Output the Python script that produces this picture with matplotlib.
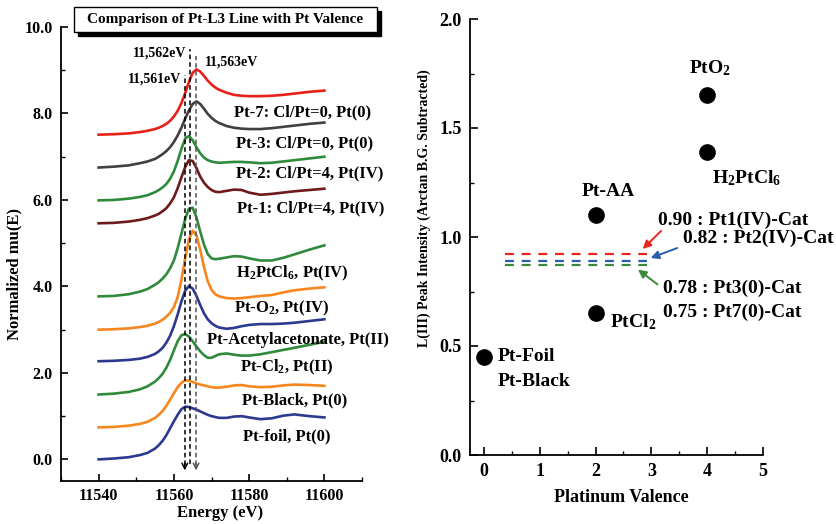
import numpy as np
import matplotlib.pyplot as plt
from matplotlib.patches import Rectangle
from matplotlib.ticker import MultipleLocator

plt.rcParams['font.family'] = ['Liberation Serif', 'DejaVu Serif']
plt.rcParams['font.weight'] = 'bold'
plt.rcParams['mathtext.fontset'] = 'custom'
plt.rcParams['mathtext.rm'] = 'Liberation Serif:bold'
plt.rcParams['mathtext.default'] = 'rm'
plt.rcParams['axes.linewidth'] = 1.3

# ---- left panel: normalized XANES spectra (offset) ----
energy = [11540, 11544, 11548, 11551, 11553, 11555, 11556, 11557, 11558, 11559,
          11560, 11561, 11562, 11563, 11564, 11565, 11566, 11567, 11568, 11569,
          11570, 11571, 11572, 11574, 11576, 11578, 11580, 11583, 11586, 11589,
          11592, 11596, 11600]

pt_foil = [0.00, 0.02, 0.05, 0.10, 0.15, 0.25, 0.33, 0.43, 0.56, 0.72,
           0.88, 1.03, 1.16, 1.22, 1.21, 1.18, 1.15, 1.11, 1.07, 1.03,
           1.00, 0.98, 0.96, 0.96, 0.99, 1.00, 0.97, 0.93, 0.95, 1.01,
           1.04, 1.00, 0.97]
pt_black = [0.74, 0.75, 0.78, 0.82, 0.87, 0.96, 1.03, 1.12, 1.24, 1.38,
            1.53, 1.67, 1.77, 1.83, 1.82, 1.79, 1.76, 1.73, 1.71, 1.69,
            1.67, 1.66, 1.66, 1.68, 1.71, 1.72, 1.69, 1.67, 1.68, 1.71,
            1.73, 1.72, 1.70]
pt_cl2 = [1.50, 1.52, 1.56, 1.62, 1.69, 1.80, 1.88, 1.98, 2.12, 2.30,
          2.52, 2.73, 2.87, 2.90, 2.84, 2.73, 2.61, 2.50, 2.41, 2.35,
          2.35, 2.39, 2.43, 2.45, 2.42, 2.40, 2.40, 2.43, 2.48, 2.53,
          2.58, 2.65, 2.72]
pt_acac = [2.27, 2.28, 2.30, 2.33, 2.37, 2.44, 2.50, 2.58, 2.70, 2.86,
           3.08, 3.35, 3.65, 3.90, 4.01, 3.95, 3.78, 3.57, 3.38, 3.24,
           3.15, 3.09, 3.05, 3.02, 3.04, 3.08, 3.11, 3.13, 3.13, 3.14,
           3.16, 3.20, 3.24]
pt_o2 = [3.00, 3.01, 3.03, 3.06, 3.09, 3.14, 3.18, 3.23, 3.30, 3.39,
         3.52, 3.75, 4.15, 4.65, 5.08, 5.29, 5.18, 4.85, 4.45, 4.12,
         3.92, 3.82, 3.77, 3.73, 3.72, 3.73, 3.75, 3.78, 3.80, 3.86,
         3.91, 3.95, 3.98]
h2ptcl6 = [3.77, 3.78, 3.82, 3.88, 3.94, 4.04, 4.10, 4.18, 4.28, 4.42,
           4.60, 4.88, 5.22, 5.56, 5.80, 5.82, 5.60, 5.27, 4.97, 4.75,
           4.65, 4.63, 4.64, 4.67, 4.70, 4.69, 4.65, 4.60, 4.60, 4.66,
           4.74, 4.85, 4.95]
pt_1 = [5.46, 5.47, 5.50, 5.54, 5.58, 5.64, 5.68, 5.74, 5.81, 5.92,
        6.06, 6.27, 6.52, 6.76, 6.92, 6.90, 6.74, 6.54, 6.40, 6.30,
        6.23, 6.19, 6.18, 6.21, 6.24, 6.23, 6.17, 6.12, 6.14, 6.17,
        6.20, 6.23, 6.26]
pt_2 = [5.99, 6.00, 6.03, 6.07, 6.11, 6.18, 6.23, 6.29, 6.37, 6.49,
        6.66, 6.90, 7.18, 7.42, 7.48, 7.38, 7.22, 7.08, 6.98, 6.92,
        6.89, 6.87, 6.86, 6.87, 6.88, 6.88, 6.87, 6.85, 6.86, 6.89,
        6.92, 6.96, 7.00]
pt_3 = [6.75, 6.77, 6.80, 6.85, 6.89, 6.95, 7.00, 7.06, 7.13, 7.22,
        7.34, 7.49, 7.67, 7.88, 8.07, 8.22, 8.28, 8.22, 8.11, 7.99,
        7.90, 7.83, 7.78, 7.71, 7.67, 7.65, 7.64, 7.64, 7.66, 7.69,
        7.72, 7.76, 7.79]
pt_7 = [7.51, 7.52, 7.54, 7.57, 7.60, 7.64, 7.67, 7.71, 7.76, 7.83,
        7.93, 8.06, 8.24, 8.47, 8.73, 8.94, 9.02, 8.97, 8.87, 8.76,
        8.67, 8.60, 8.55, 8.48, 8.43, 8.41, 8.40, 8.40, 8.41, 8.43,
        8.46, 8.50, 8.53]

spectra = [pt_foil, pt_black, pt_cl2, pt_acac, pt_o2, h2ptcl6, pt_1, pt_2, pt_3, pt_7]
spec_colors = ['#2b3990', '#f7861f', '#2f8a3c', '#2b3990', '#f7861f',
               '#2f8a3c', '#6e1a1a', '#2f8a3c', '#404040', '#e8201a']
spec_labels = ['Pt-foil, Pt(0)', 'Pt-Black, Pt(0)', 'Pt-Cl$_2$, Pt(II)',
               'Pt-Acetylacetonate, Pt(II)', 'Pt-O$_2$, Pt(IV)', 'H$_2$PtCl$_6$, Pt(IV)',
               'Pt-1: Cl/Pt=4, Pt(IV)', 'Pt-2: Cl/Pt=4, Pt(IV)',
               'Pt-3: Cl/Pt=0, Pt(0)', 'Pt-7: Cl/Pt=0, Pt(0)']
label_x = [11578.3, 11578.0, 11577.5, 11568.8, 11576.1, 11576.4, 11576.9, 11576.4, 11576.4, 11576.1]
label_y = [0.53, 1.36, 2.13, 2.77, 3.49, 4.30, 5.80, 6.61, 7.31, 8.02]

# edge energy markers (position as read on the axis, label text)
edge_x = [11562.9, 11564.3, 11565.9]
edge_top = [8.88, 9.50, 9.34]
edge_bottom = [-0.32, -0.10, -0.32]
edge_colors = ['black', 'black', '#555555']
edge_arrow = [True, False, True]
edge_text = ['11,561eV', '11,562eV', '11,563eV']

# ---- right panel: L(III) peak intensity vs valence ----
valence = [0, 2, 2, 4, 4]
intensity = [0.45, 0.65, 1.10, 1.65, 1.39]
cat_levels = [0.92, 0.89, 0.87]
cat_span = [0.38, 2.92]
cat_colors = ['#e8251f', '#2a5db0', '#3a8a3a']

fig = plt.figure(figsize=(8.36, 5.24), dpi=100)

ax1 = fig.add_axes([61/836, 1-481/524, 301/836, 454/524])
for y, c in zip(spectra, spec_colors):
    ax1.plot(energy, y, color=c, lw=1.9, solid_joinstyle='round')
for lab, lx, ly in zip(spec_labels, label_x, label_y):
    ax1.text(lx, ly, lab, fontsize=12, fontweight='bold', ha='left', va='center')

for x, t, b, c, a in zip(edge_x, edge_top, edge_bottom, edge_colors, edge_arrow):
    ax1.plot([x, x], [b if not a else b + 0.2, t], color=c, ls=(0, (3, 2)), lw=1.1)
    if a:
        ax1.annotate('', xy=(x, b), xytext=(x, b + 0.3),
                     arrowprops=dict(arrowstyle='->', color=c, lw=1.1,
                                     mutation_scale=10))
ax1.text(11562.0, 8.79, edge_text[0], fontsize=10, ha='right', va='center')
ax1.text(11563.4, 9.39, edge_text[1], fontsize=10, ha='right', va='center')
ax1.text(11568.2, 9.18, edge_text[2], fontsize=10, ha='left', va='center')

ax1.set_xlim(11530, 11610)
ax1.set_ylim(-0.5, 10.0)
ax1.set_xticks([11540, 11560, 11580, 11600])
ax1.xaxis.set_minor_locator(MultipleLocator(10))
ax1.yaxis.set_major_locator(MultipleLocator(2))
ax1.yaxis.set_minor_locator(MultipleLocator(1))
ax1.yaxis.set_major_formatter(plt.FormatStrFormatter('%.1f'))
ax1.spines['top'].set_visible(False)
ax1.spines['right'].set_visible(False)
ax1.tick_params(which='both', direction='in', labelsize=11.5)
ax1.tick_params(which='major', length=5, width=1.2)
ax1.tick_params(which='minor', length=3, width=1.0)
ax1.tick_params(axis='y', pad=6)
ax1.tick_params(axis='x', pad=5)
ax1.set_xlabel('Energy (eV)', fontsize=12, fontweight='bold')
ax1.set_ylabel('Normalized mu(E)', fontsize=12, fontweight='bold')
ax1.xaxis.set_label_coords(0.528, -0.052)
ax1.yaxis.set_label_coords(-0.128, 0.456)

# title box with drop shadow
fig.add_artist(Rectangle((78/836, 1-36/524), 303/836, 25/524, transform=fig.transFigure,
                         facecolor='black', edgecolor='black'))
fig.add_artist(Rectangle((74/836, 1-32/524), 303/836, 25/524, transform=fig.transFigure,
                         facecolor='white', edgecolor='black', lw=1.0))
fig.text(225.5/836, 1-19.5/524, 'Comparison of Pt-L3 Line with Pt Valence',
         fontsize=11, fontweight='bold', ha='center', va='center')

ax2 = fig.add_axes([470/836, 1-455/524, 293/836, 436/524])
ax2.plot(valence, intensity, 'o', color='black', ms=11)
for lvl, c in zip(cat_levels, cat_colors):
    ax2.plot(cat_span, [lvl, lvl], color=c, ls=(0, (4, 3.5)), lw=1.6)

ax2.text(0.25, 0.45, 'Pt-Foil', fontsize=14, ha='left', va='center')
ax2.text(0.25, 0.335, 'Pt-Black', fontsize=14, ha='left', va='center')
ax2.text(2.26, 0.61, 'PtCl$_2$', fontsize=14, ha='left', va='center')
ax2.text(2.22, 1.21, 'Pt-AA', fontsize=14, ha='center', va='center')
ax2.text(4.05, 1.775, 'PtO$_2$', fontsize=14, ha='center', va='center')
ax2.text(4.09, 1.27, 'H$_2$PtCl$_6$', fontsize=14, ha='left', va='center')
ax2.text(3.12, 1.078, '0.90 : Pt1(IV)-Cat', fontsize=14, ha='left', va='center')
ax2.text(3.57, 0.995, '0.82 : Pt2(IV)-Cat', fontsize=14, ha='left', va='center')
ax2.text(3.21, 0.766, '0.78 : Pt3(0)-Cat', fontsize=14, ha='left', va='center')
ax2.text(3.21, 0.656, '0.75 : Pt7(0)-Cat', fontsize=14, ha='left', va='center')

ax2.annotate('', xy=(2.81, 0.936), xytext=(3.21, 1.037),
             arrowprops=dict(arrowstyle='-|>', color=cat_colors[0], lw=1.4, mutation_scale=12))
ax2.annotate('', xy=(2.94, 0.899), xytext=(3.51, 0.954),
             arrowprops=dict(arrowstyle='-|>', color=cat_colors[1], lw=1.4, mutation_scale=12))
ax2.annotate('', xy=(2.72, 0.858), xytext=(3.15, 0.775),
             arrowprops=dict(arrowstyle='-|>', color=cat_colors[2], lw=1.4, mutation_scale=12))

ax2.set_xlim(-0.25, 5)
ax2.set_ylim(0, 2.0)
ax2.xaxis.set_major_locator(MultipleLocator(1))
ax2.xaxis.set_minor_locator(MultipleLocator(0.5))
ax2.yaxis.set_major_locator(MultipleLocator(0.5))
ax2.yaxis.set_minor_locator(MultipleLocator(0.25))
ax2.yaxis.set_major_formatter(plt.FormatStrFormatter('%.1f'))
ax2.spines['top'].set_visible(False)
ax2.spines['right'].set_visible(False)
ax2.tick_params(which='both', direction='in', labelsize=13, pad=6)
ax2.tick_params(which='major', length=6, width=1.2)
ax2.tick_params(which='minor', length=3, width=1.0)
ax2.set_xlabel('Platinum Valence', fontsize=13, fontweight='bold')
ax2.set_ylabel('L(III) Peak Intensity (Arctan B.G. Subtracted)', fontsize=10, fontweight='bold')
ax2.xaxis.set_label_coords(0.515, -0.078)
ax2.yaxis.set_label_coords(-0.133, 0.566)

fig.savefig('out.png', dpi=100)
